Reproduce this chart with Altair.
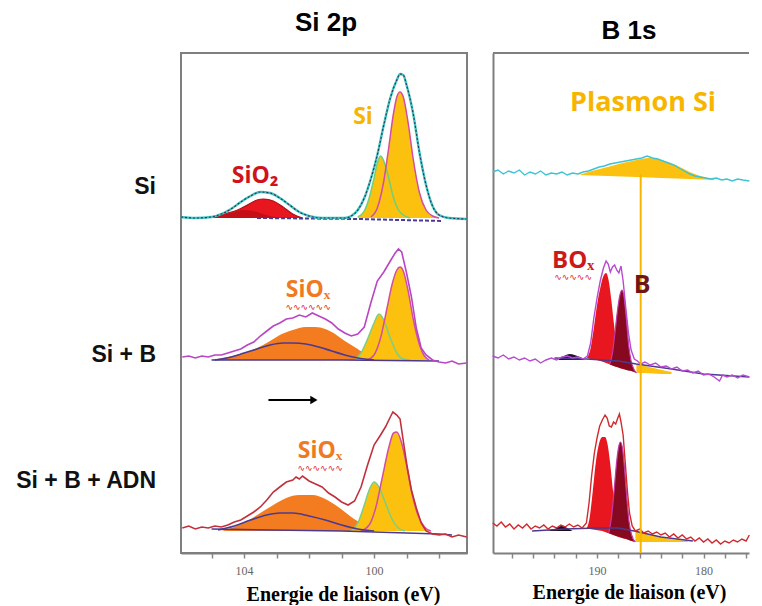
import altair as alt
import pandas as pd

# ======================= Si 2p panel (binding energy in eV, intensity in a.u., spectra offset) =======================
# --- sample "Si" (top) ---
si_env_ev = [105.94,105.5,105.0,104.7,104.4,104.1,103.8,103.5,103.2,102.9,102.6,102.3,102.0,101.6,101.2,100.9,100.7,100.5,100.3,100.1,99.9,99.7,99.5,99.3,99.2,99.1,99.0,98.8,98.6,98.4,98.2,98.0,97.7,97.15]
si_env_int = [336,335,336,339,344,351,357,361,360,355,348,341,337,335,335,335,337,343,355,374,398,428,455,473,479,478,468,440,400,368,347,338,335,334]
si_sio2_ev = [105.25,104.9,104.5,104.2,103.9,103.6,103.4,103.1,102.8,102.5,102.2]
si_sio2_int = [335,337,340,343,348,353,354,352,346,339,335]
si_sio2b_ev = [105.2,104.8,104.4,104.0,103.6,103.2,102.9]
si_sio2b_int = [335,337,340,343,341,337,335]
si_p12_ev = [100.5,100.3,100.15,100.0,99.9,99.8,99.7,99.55,99.4,99.25,99.1,98.9]
si_p12_int = [336,342,355,375,390,397,392,375,355,343,338,335]
si_p32_ev = [100.1,99.9,99.7,99.55,99.4,99.3,99.2,99.1,98.95,98.8,98.6,98.4,98.2,98.0]
si_p32_int = [336,345,372,405,440,456,461,456,430,395,360,343,337,335]
si_bg_ev = [103.6,100.5,97.9]
si_bg_int = [335,334,332]
si_base = 335

# --- sample "Si + B" (middle) ---
sib_env_ev = [105.9,105.7,105.5,105.3,105.1,104.9,104.7,104.5,104.3,104.1,
              103.9,103.7,103.5,103.3,103.1,102.9,102.7,102.5,102.3,102.1,
              101.9,101.7,101.5,101.3,101.1,100.9,100.7,100.5,100.3,100.1,
              99.9,99.7,99.5,99.35,99.25,99.15,99.0,98.85,98.7,98.55,
              98.4,98.2,98.0,97.8,97.6,97.4,97.15]
sib_env_int = [196,197,195,197,196,198,198,200,202,204,
               208,211,217,222,227,230,234,235,238,236,
               240,237,234,230,224,220,217,219,226,250,
               272,281,292,300,304,301,280,256,225,205,
               198,193,191,190,192,189,190]
sib_siox_ev = [105.0,104.5,104.0,103.6,103.2,102.9,102.5,102.1,101.8,101.5,101.2,100.9,100.6,100.3,100.0,99.6,99.2]
sib_siox_int = [193,196,200,205,212,218,223,226,226,224,219,212,206,200,197,194,193]
sib_comp_ev = [104.9,104.4,104.0,103.6,103.2,102.8,102.5,102.1,101.7,101.3,100.9,100.5,100.0]
sib_comp_int = [193,196,200,204,208,210,210,209,206,202,198,195,193]
sib_p12_ev = [100.6,100.4,100.2,100.0,99.85,99.7,99.5,99.3,99.1,98.9]
sib_p12_int = [193,200,214,230,239,233,215,200,194,193]
sib_p32_ev = [100.2,100.0,99.8,99.6,99.45,99.3,99.2,99.1,98.95,98.8,98.6,98.45,98.3]
sib_p32_int = [193,198,215,245,268,283,286,282,262,235,208,197,193]
sib_bg_ev = [105.0,101.0,98.0]
sib_bg_int = [193,193,192]
sib_base = 193

# --- sample "Si + B + ADN" (bottom) ---
sba_env_ev = [105.9,105.7,105.5,105.3,105.1,104.9,104.7,104.5,104.3,104.1,
              103.9,103.7,103.5,103.3,103.1,102.9,102.7,102.5,102.4,102.3,
              102.2,102.0,101.8,101.6,101.4,101.2,101.0,100.8,100.6,100.4,
              100.2,100.0,99.8,99.65,99.5,99.42,99.3,99.2,99.1,98.98,
              98.85,98.7,98.55,98.4,98.2,98.0,97.8,97.6,97.4,97.15]
sba_env_int = [25,27,24,26,25,27,26,28,31,33,
               37,41,46,53,61,66,71,73,76,74,
               77,72,69,66,60,56,51,48,52,66,
               88,108,118,126,136,141,138,134,112,86,
               63,45,30,22,19,18,19,16,18,16]
sba_siox_ev = [104.7,104.3,103.9,103.5,103.1,102.7,102.3,101.9,101.5,101.1,100.7,100.3,99.9,99.5]
sba_siox_int = [22,26,32,40,48,55,58,58,54,46,36,28,23,22]
sba_comp_ev = [104.8,104.3,103.8,103.3,102.9,102.5,102.0,101.5,101.0,100.5,100.0]
sba_comp_int = [23,27,33,38,40,40,37,33,28,24,22]
sba_p12_ev = [100.75,100.5,100.3,100.15,100.0,99.85,99.65,99.45,99.25,99.05]
sba_p12_int = [22,30,48,63,71,66,50,34,25,22]
sba_p32_ev = [100.4,100.15,99.95,99.75,99.55,99.4,99.3,99.15,99.0,98.85,98.65,98.45,98.25]
sba_p32_int = [22,28,45,75,105,120,121,110,88,62,38,26,22]
sba_bg_ev = [105.0,101.0,98.0,97.6]
sba_bg_int = [24,22,19,18]
sba_base = 22

# annotations of the Si 2p panel
si_label_text = ["Si", "SiO\u2082", "SiO\u2093", "SiO\u2093"]
si_label_ev = [100.34, 103.66, 102.03, 101.66]
si_label_int = [436, 377, 263, 102]
si_label_color = ["#f7b500", "#d0121b", "#ef7a22", "#ef7a22"]
si_label_size = [23, 23, 23, 23]
si_squiggle_ev = [102.03, 101.66]
si_squiggle_int = [246, 85]
arrow_ev = [103.25, 101.85]
arrow_int = 153

row_labels = ["Si", "Si + B", "Si + B + ADN"]
row_label_int = [366, 198, 72]

# ======================= B 1s panel =======================
# --- sample "Si" (top): Si plasmon ---
bsi_env_ev = [199.8,199.3,198.8,198.3,197.8,197.3,196.8,196.3,195.8,195.3,
              194.8,194.3,193.8,193.3,192.8,192.3,191.8,191.3,190.8,190.3,
              189.8,189.3,188.8,188.3,187.8,187.3,186.8,186.3,185.8,185.3,
              184.8,184.3,183.8,183.3,182.8,182.3,181.8,181.3,180.8,180.3,
              179.8,179.3,178.8,178.3,177.8,177.3,176.8,176.3,175.7]
bsi_env_int = [381,383,379,382,380,383,378,381,379,382,
               378,380,379,381,378,380,379,381,382,384,
               386,387,389,390,391,392,393,394,395,397,
               395,394,392,390,388,385,382,379,377,376,
               375,374,375,373,374,372,374,373,372]
plasmon_ev = [191.7,190.5,189.0,187.6,186.3,185.1,184.0,182.6,181.3,180.0,179.0]
plasmon_top = [378,382,386,390,393,395,393,388,381,376,374]
plasmon_base = [378,377.5,377,376.5,376,375.5,375,374.5,374,373.5,373]
plasmon_line_ev = [185.9]
plasmon_line_top = [379]

# --- sample "Si + B" (middle) ---
bsb_env_ev = [199.8,199.3,198.8,198.3,197.8,197.3,196.8,196.3,195.8,195.3,
              194.8,194.3,193.8,193.3,192.8,192.3,191.8,191.3,190.9,190.6,
              190.3,190.0,189.7,189.4,189.15,188.95,188.75,188.55,188.35,188.15,
              187.95,187.75,187.55,187.3,187.05,186.8,186.5,186.2,185.9,185.5,
              185.0,184.5,184.0,183.5,183.0,182.5,182.0,181.5,181.0,180.5,
              180.0,179.5,179.0,178.5,178.2,177.8,177.3,176.8,176.3,175.7]
bsb_env_int = [197,195,198,194,196,193,195,192,194,190,
               193,195,193,196,197,195,196,194,197,210,
               235,255,272,285,292,289,281,286,288,283,
               280,287,272,245,220,203,194,192,189,191,
               188,190,186,187,184,186,182,183,180,182,
               178,179,176,172,178,176,178,175,178,176]
bsb_box_ev = [190.95,190.6,190.3,190.0,189.7,189.4,189.15,188.9,188.65,188.4,188.15,187.9,187.6,187.2,186.8,186.3]
bsb_box_top = [195,205,225,248,265,277,280,272,252,228,208,195,188,184,182,180]
bsb_box_base = [195,194,193.5,193,192,191,190,189,188,187,186,185,184,183,182,180]
bsb_b_ev = [188.8,188.55,188.3,188.05,187.85,187.65,187.45,187.25,187.05,186.8,186.55,186.3]
bsb_b_top = [189,200,222,245,258,263,255,235,210,192,184,180]
bsb_b_base = [188.5,187.5,186.5,186,185,184.5,184,183,182.5,182,181,180]
bsb_dark_ev = [193.6,193.1,192.6,192.1,191.6,191.2]
bsb_dark_top = [194,197,199,198,196,194]
bsb_dark_base = [193,193,193,193,193,193]
bsb_y_ev = [186.3,185.5,184.7,183.9,183.0]
bsb_y_top = [189,187,185,183,181]
bsb_y_base = [180,180,179.5,179,179]
bsb_bg_ev = [194.0,191.0,188.0,186.3,183.0,180.0,175.7]
bsb_bg_int = [195,194,192,189,184,179,176]

# --- sample "Si + B + ADN" (bottom) ---
bsa_env_ev = [199.8,199.4,199.0,198.6,198.2,197.8,197.4,197.0,196.6,196.2,
              195.8,195.4,195.0,194.6,194.2,193.8,193.4,193.0,192.6,192.2,
              191.8,191.4,191.0,190.75,190.5,190.25,190.0,189.75,189.5,189.25,
              189.05,188.85,188.65,188.45,188.25,188.05,187.9,187.75,187.55,187.35,
              187.15,186.95,186.7,186.4,186.0,185.6,185.2,184.8,184.4,184.0,
              183.6,183.2,182.8,182.4,182.0,181.6,181.2,180.8,180.4,180.0,
              179.6,179.2,178.8,178.4,178.0,177.6,177.2,176.8,176.4,176.0,
              175.7]
bsa_env_int = [30,27,31,26,29,24,28,25,29,24,
               27,25,28,24,27,25,28,26,29,26,
               28,25,30,50,78,100,115,127,133,138,
               135,127,126,131,129,135,139,131,118,90,
               62,40,27,22,24,20,22,19,21,18,
               20,16,19,15,18,14,16,12,15,11,
               14,10,13,9,12,10,13,11,14,12,
               18]
bsa_box_ev = [191.0,190.7,190.4,190.1,189.8,189.5,189.25,189.0,188.75,188.5,188.25,188.0,187.7,187.3,186.9,186.4]
bsa_box_top = [24,35,62,92,110,116,116,108,88,62,42,30,22,17,14,11]
bsa_box_base = [24,24,23.5,23,22.5,22,21,20,19,18,17,16,15,14,12.5,11]
bsa_b_ev = [188.9,188.65,188.4,188.15,187.95,187.8,187.6,187.4,187.2,187.0,186.75,186.4]
bsa_b_top = [20,35,62,92,107,111,104,82,55,32,18,11]
bsa_b_base = [20,19,18,17,16.5,16,15,14.5,14,13,12,11]
bsa_dark_ev = [194.8,194.0,193.3,192.8,192.3]
bsa_dark_top = [22,24,27,25,22]
bsa_dark_base = [22,22,22,22,22]
bsa_y_ev = [186.4,185.6,184.8,184.0,183.2,182.4,181.5]
bsa_y_top = [22,20,18,16,14,13,12]
bsa_y_base = [11,11,11,11,11,11,11]
bsa_bg_ev = [196.1,193.0,190.0,188.0,186.5,184.0,181.0]
bsa_bg_int = [22,24,25,25,22,16,12]

b_label_text = ["Plasmon Si", "BO\u2093", "B"]
b_label_ev = [185.68, 192.25, 185.77]
b_label_int = [450, 292, 268]
b_label_color = ["#f7b500", "#cc1a1a", "#6e1616"]
b_label_size = [27, 24, 25]
b_squiggle_ev = [192.25]
b_squiggle_int = [276]

panel_titles = ["Si 2p", "B 1s"]

# ======================= styling =======================
YELLOW = "#fcc10e"
ORANGE = "#f47c20"
RED = "#e8161e"
DARKRED = "#86091f"
PURPLE = "#4b3a8f"
FRAME = "#7f7f7f"
W_SI, W_B, H = 286, 256, 500

ys = alt.Scale(domain=[0, 500], nice=False, zero=False)
xs_si = alt.Scale(domain=[97.14, 105.94], reverse=True, nice=False, zero=False)
xs_b = alt.Scale(domain=[175.73, 199.77], reverse=True, nice=False, zero=False)

common_axis = dict(
    title="Energie de liaison (eV)", titleFont="Liberation Serif", titleFontSize=20,
    titleFontWeight="bold", titleColor="black", titleBaseline="alphabetic", titleAlign="center",
    labelFont="Liberation Serif", labelFontSize=12, labelColor="#666666", labelPadding=7,
    tickSize=5, tickColor="#888888", tickWidth=1.5, domainColor=FRAME, domainWidth=2,
    grid=False, labelFlush=False,
)
ax_si = alt.Axis(values=[105, 104, 103, 102, 101, 100, 99, 98],
                 labelExpr="datum.value == 104 || datum.value == 100 ? datum.label : ''",
                 titleX=162, titleY=47, **common_axis)
ax_b = alt.Axis(values=[198, 196, 194, 192, 190, 188, 186, 184, 182, 180, 178, 176],
                labelExpr="datum.value == 190 || datum.value == 180 ? datum.label : ''",
                titleX=136, titleY=45, **common_axis)
yax_b = alt.Axis(domain=True, ticks=False, labels=False, title=None, grid=False,
                 domainColor=FRAME, domainWidth=2)


def frame_df(x, y, base=None):
    d = pd.DataFrame({"x": x, "y": y})
    if base is not None:
        d["y2"] = base if isinstance(base, list) else [base] * len(x)
    return d


def make_helpers(xs, xax, yax):
    def X():
        return alt.X("x:Q", scale=xs, axis=xax)

    def Y():
        return alt.Y("y:Q", scale=ys, axis=yax, stack=None)

    def area(x, y, base, color, interp="monotone", opacity=1.0):
        return alt.Chart(frame_df(x, y, base)).mark_area(
            color=color, interpolate=interp, opacity=opacity).encode(x=X(), y=Y(), y2="y2:Q")

    def line(x, y, color, width=1.5, interp="monotone", dash=None, opacity=1.0):
        kw = dict(color=color, strokeWidth=width, interpolate=interp, opacity=opacity)
        if dash:
            kw["strokeDash"] = dash
        return alt.Chart(frame_df(x, y)).mark_line(**kw).encode(x=X(), y=Y())

    return X, Y, area, line


def title_layer(text, xpix, ypix):
    return alt.Chart(pd.DataFrame({"t": [text]})).mark_text(
        font="Liberation Sans", fontSize=26, fontWeight="bold", color="black",
        align="center", baseline="alphabetic").encode(
        x=alt.value(xpix), y=alt.value(ypix), text="t:N")


# ----------------------- left panel -----------------------
X, Y, area, line = make_helpers(xs_si, ax_si, None)
left_layers = [
    # Si
    area(si_sio2_ev, si_sio2_int, si_base, RED),
    area(si_sio2b_ev, si_sio2b_int, si_base, "#c40f19"),
    area(si_p12_ev, si_p12_int, si_base, YELLOW),
    area(si_p32_ev, si_p32_int, si_base, YELLOW),
    line(si_p12_ev, si_p12_int, "#6fcf7a", 1.5),
    line(si_p32_ev, si_p32_int, "#d24ea6", 1.5),
    line(si_sio2_ev, si_sio2_int, "#b0101a", 1.2),
    line(si_bg_ev, si_bg_int, PURPLE, 2, "linear", [4, 2]),
    line(si_env_ev, si_env_int, "#3fc2c0", 2.4),
    line(si_env_ev, si_env_int, "#2b3355", 1.1, "monotone", [2, 2]),
    # Si + B
    area(sib_siox_ev, sib_siox_int, sib_base, ORANGE),
    area(sib_p12_ev, sib_p12_int, sib_base, YELLOW),
    area(sib_p32_ev, sib_p32_int, sib_base, YELLOW),
    line(sib_p12_ev, sib_p12_int, "#79cf86", 1.5),
    line(sib_p32_ev, sib_p32_int, "#d24ea6", 1.5),
    line(sib_comp_ev, sib_comp_int, PURPLE, 1.6),
    line(sib_bg_ev, sib_bg_int, PURPLE, 1.5, "linear"),
    line(sib_env_ev, sib_env_int, "#b945c4", 1.6, "linear"),
    # Si + B + ADN
    area(sba_siox_ev, sba_siox_int, sba_base, ORANGE),
    area(sba_p12_ev, sba_p12_int, sba_base, YELLOW),
    area(sba_p32_ev, sba_p32_int, sba_base, YELLOW),
    line(sba_p12_ev, sba_p12_int, "#79cf86", 1.5),
    line(sba_p32_ev, sba_p32_int, "#d24ea6", 1.5),
    line(sba_comp_ev, sba_comp_int, PURPLE, 1.6),
    line(sba_bg_ev, sba_bg_int, PURPLE, 1.5, "linear"),
    line(sba_env_ev, sba_env_int, "#c2303c", 1.6, "linear"),
]

# arrow
arrow_df = pd.DataFrame({"x": [arrow_ev[0]], "x2": [arrow_ev[1]], "y": [arrow_int]})
left_layers.append(alt.Chart(arrow_df).mark_rule(color="black", strokeWidth=2).encode(
    x=X(), x2="x2:Q", y=Y()))
head_df = pd.DataFrame({"x": [arrow_ev[1]], "y": [arrow_int]})
left_layers.append(alt.Chart(head_df).mark_point(
    shape="triangle-right", filled=True, color="black", size=70, opacity=1).encode(x=X(), y=Y()))

# labels
lab_df = pd.DataFrame({"x": si_label_ev, "y": si_label_int, "t": si_label_text,
                       "c": si_label_color, "s": si_label_size})
left_layers.append(alt.Chart(lab_df).mark_text(
    font="Open Sans", fontWeight="bold", baseline="middle", align="center").encode(
    x=X(), y=Y(), text="t:N", color=alt.Color("c:N", scale=None), size=alt.Size("s:Q", scale=None)))
sq_df = pd.DataFrame({"x": si_squiggle_ev, "y": si_squiggle_int, "t": ["\u223f\u223f\u223f\u223f\u223f\u223f"] * 2})
left_layers.append(alt.Chart(sq_df).mark_text(
    font="DejaVu Sans", fontSize=9, color="#e0242a", baseline="middle", align="center").encode(
    x=X(), y=Y(), text="t:N"))
row_df = pd.DataFrame({"y": row_label_int, "t": row_labels})
left_layers.append(alt.Chart(row_df).mark_text(
    font="Liberation Sans", fontSize=23, fontWeight="bold", color="#111111",
    align="right", baseline="middle").encode(x=alt.value(-25), y=Y(), text="t:N"))
left_layers.append(title_layer(panel_titles[0], W_SI / 2 + 2, -22))

left = alt.layer(*left_layers).properties(
    width=W_SI, height=H,
    view=alt.ViewBackground(stroke=FRAME, strokeWidth=2),
)

# ----------------------- right panel -----------------------
X, Y, area, line = make_helpers(xs_b, ax_b, yax_b)
right_layers = [
    # Si (plasmon)
    area(plasmon_ev, plasmon_top, plasmon_base, YELLOW),
    line(bsi_env_ev, bsi_env_int, "#3cc4d4", 1.4, "linear"),
    # Si + B
    area(bsb_dark_ev, bsb_dark_top, bsb_dark_base, "#2a1036"),
    area(bsb_y_ev, bsb_y_top, bsb_y_base, YELLOW),
    area(bsb_box_ev, bsb_box_top, bsb_box_base, RED),
    area(bsb_b_ev, bsb_b_top, bsb_b_base, DARKRED),
    line(bsb_b_ev, bsb_b_top, "#c23aa8", 1.2),
    line(bsb_bg_ev, bsb_bg_int, PURPLE, 1.4, "linear"),
    line(bsb_env_ev, bsb_env_int, "#b64ad0", 1.4, "linear"),
    # Si + B + ADN
    area(bsa_dark_ev, bsa_dark_top, bsa_dark_base, "#1a0a1a"),
    area(bsa_y_ev, bsa_y_top, bsa_y_base, YELLOW),
    area(bsa_box_ev, bsa_box_top, bsa_box_base, RED),
    area(bsa_b_ev, bsa_b_top, bsa_b_base, DARKRED),
    line(bsa_b_ev, bsa_b_top, "#c23aa8", 1.2),
    line(bsa_bg_ev, bsa_bg_int, PURPLE, 1.4, "linear"),
    line(bsa_env_ev, bsa_env_int, "#d02a2e", 1.4, "linear"),
]
pl_df = pd.DataFrame({"x": plasmon_line_ev, "y": plasmon_line_top, "y2": [0]})
right_layers.append(alt.Chart(pl_df).mark_rule(color="#f7b500", strokeWidth=2).encode(
    x=X(), y=Y(), y2="y2:Q"))
blab_df = pd.DataFrame({"x": b_label_ev, "y": b_label_int, "t": b_label_text,
                        "c": b_label_color, "s": b_label_size})
right_layers.append(alt.Chart(blab_df).mark_text(
    font="Open Sans", fontWeight="bold", baseline="middle", align="center").encode(
    x=X(), y=Y(), text="t:N", color=alt.Color("c:N", scale=None), size=alt.Size("s:Q", scale=None)))
bsq_df = pd.DataFrame({"x": b_squiggle_ev, "y": b_squiggle_int, "t": ["\u223f\u223f\u223f\u223f\u223f"]})
right_layers.append(alt.Chart(bsq_df).mark_text(
    font="DejaVu Sans", fontSize=9, color="#e0242a", baseline="middle", align="center").encode(
    x=X(), y=Y(), text="t:N"))
top_border = pd.DataFrame({"k": [0]})
right_layers.append(alt.Chart(top_border).mark_rule(color=FRAME, strokeWidth=2).encode(
    x=alt.value(0), x2=alt.value(W_B), y=alt.value(0)))
right_layers.append(title_layer(panel_titles[1], 136, -14))

right = alt.layer(*right_layers).properties(
    width=W_B, height=H,
    view=alt.ViewBackground(stroke="transparent"),
)

chart = alt.hconcat(left, right, spacing=26, bounds="flush").properties(
    padding={"left": 6, "top": 1, "right": 0, "bottom": 0},
    background="white",
)

chart.save("out.html", embed_options={"renderer": "svg", "actions": False})
